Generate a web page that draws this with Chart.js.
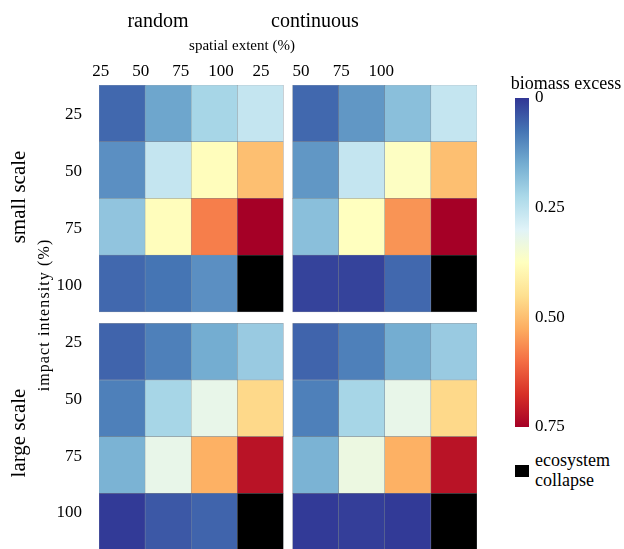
<!DOCTYPE html>
<html>
<head>
<meta charset="utf-8">
<script src="https://cdn.jsdelivr.net/npm/chart.js@4.4.1/dist/chart.umd.min.js"></script>
<style>
  body { margin: 0; background: #fff; }
  #wrap { position: relative; width: 624px; height: 549px; overflow: hidden; font-family: "Liberation Serif", "DejaVu Serif", serif; color: #000; }
  canvas { position: absolute; }
  .lbl { position: absolute; white-space: nowrap; transform: translate(-50%, -50%); line-height: 1; }
  .rot { transform: translate(-50%, -50%) rotate(-90deg); }
</style>
</head>
<body>
<div id="wrap">
  <canvas id="heat" width="490" height="549" style="left:0;top:0"></canvas>
  <canvas id="cbar" width="124" height="380" style="left:500px;top:60px"></canvas>

  <div class="lbl" style="left:158px;top:20px;font-size:20px">random</div>
  <div class="lbl" style="left:315px;top:20px;font-size:20px">continuous</div>
  <div class="lbl" style="left:242px;top:45px;font-size:15px">spatial extent (%)</div>
  <div class="lbl rot" style="left:18px;top:197px;font-size:21px">small scale</div>
  <div class="lbl rot" style="left:18px;top:433px;font-size:21px">large scale</div>
  <div class="lbl rot" style="left:44px;top:315px;font-size:16px;letter-spacing:1.1px">impact intensity (%)</div>
  <div class="lbl" style="left:566px;top:83px;font-size:18px">biomass excess</div>
  <div style="position:absolute;left:515px;top:465px;width:14px;height:12px;background:#000"></div>
  <div style="position:absolute;left:535px;top:450px;font-size:18px;line-height:20px">ecosystem<br>collapse</div>
</div>
<script>
// tick labels
const extentLabels = ['25', '50', '75', '100'];     // spatial extent (%)
const intensityLabels = ['25', '50', '75', '100'];  // impact intensity (%)

// biomass excess; rows = impact intensity, columns = spatial extent; null = ecosystem collapse
const smallRandom = [
  [0.06, 0.14, 0.22, 0.26],
  [0.11, 0.26, 0.38, 0.50],
  [0.19, 0.38, 0.58, 0.75],
  [0.06, 0.075, 0.11, null]
];
const smallContinuous = [
  [0.06, 0.12, 0.18, 0.26],
  [0.12, 0.26, 0.37, 0.50],
  [0.18, 0.375, 0.555, 0.75],
  [0.015, 0.015, 0.06, null]
];
const largeRandom = [
  [0.055, 0.09, 0.15, 0.20],
  [0.09, 0.22, 0.32, 0.46],
  [0.16, 0.32, 0.52, 0.72],
  [0.005, 0.04, 0.055, null]
];
const largeContinuous = [
  [0.055, 0.09, 0.15, 0.20],
  [0.09, 0.22, 0.32, 0.46],
  [0.16, 0.33, 0.52, 0.72],
  [0.005, 0.01, 0.005, null]
];

// colour bar
const barRange = [0, 0.75];
const barTicks = [0, 0.25, 0.5, 0.75];

// RdYlBu reversed, spread over 0 .. 0.75
const palette = ['#313695', '#4575b4', '#74add1', '#abd9e9', '#e0f3f8', '#ffffbf',
                 '#fee090', '#fdae61', '#f46d43', '#d73027', '#a50026'];

function hexToRgb(h) {
  return [parseInt(h.slice(1, 3), 16), parseInt(h.slice(3, 5), 16), parseInt(h.slice(5, 7), 16)];
}

function colour(v) {
  if (v === null) return '#000000';
  let t = Math.min(Math.max(v / barRange[1], 0), 1) * (palette.length - 1);
  const i = Math.min(Math.floor(t), palette.length - 2);
  const f = t - i;
  const a = hexToRgb(palette[i]), b = hexToRgb(palette[i + 1]);
  const c = a.map((x, k) => Math.round(x + (b[k] - x) * f));
  return `rgb(${c[0]},${c[1]},${c[2]})`;
}

const GAP = 0.2; // space between panels, in cell units
const panels = [
  {values: smallRandom, col: 0, row: 0},
  {values: smallContinuous, col: 4 + GAP, row: 0},
  {values: largeRandom, col: 0, row: 4 + GAP},
  {values: largeContinuous, col: 4 + GAP, row: 4 + GAP}
];

const colCentres = [];
panels.slice(0, 2).forEach(p => extentLabels.forEach((_, c) => colCentres.push(p.col + c + 0.5)));

const datasets = panels.map(p => {
  const data = [];
  const colours = [];
  p.values.forEach((row, r) => {
    row.forEach((v, c) => {
      data.push({x: p.col + c + 0.5, y: [p.row + r, p.row + r + 1]});
      colours.push(colour(v));
    });
  });
  return {
    data: data,
    backgroundColor: colours,
    borderColor: 'rgba(80,90,100,0.6)',
    borderWidth: 0.5,
    borderSkipped: false,
    grouped: false,
    barPercentage: 1,
    categoryPercentage: 1
  };
});

const tickFont = {family: 'Liberation Serif', size: 17};
const noGrid = {display: false, drawTicks: false};

// keep the label axes from pushing the plot area around
function noPad(s) {
  s.paddingLeft = 0; s.paddingRight = 0; s.paddingTop = 0; s.paddingBottom = 0;
}

new Chart(document.getElementById('heat'), {
  type: 'bar',
  data: {datasets: datasets},
  options: {
    responsive: false,
    animation: false,
    layout: {padding: {left: 0, top: 0, right: 13, bottom: 0}},
    plugins: {legend: {display: false}, tooltip: {enabled: false}},
    scales: {
      x: {
        type: 'linear', min: 0, max: 8 + GAP, display: false, offset: false,
        afterBuildTicks: s => { s.ticks = colCentres.map(v => ({value: v})); }
      },
      y: {type: 'linear', min: 0, max: 8.18, reverse: true, display: false},
      xl: {
        type: 'linear', position: 'top', axis: 'x', min: -0.0425, max: 9.39, offset: false,
        grid: noGrid, border: {display: false},
        afterBuildTicks: s => { s.ticks = [0, 1, 2, 3, 4, 5, 6, 7].map(v => ({value: v})); },
        afterFit: s => { s.height = 85; noPad(s); },
        ticks: {
          autoSkip: false, maxRotation: 0, padding: 3, color: '#000', font: tickFont,
          callback: v => extentLabels[v % 4]
        }
      },
      yl: {
        type: 'linear', position: 'left', axis: 'y', min: -0.528, max: 7.633, reverse: true,
        grid: noGrid, border: {display: false},
        afterBuildTicks: s => { s.ticks = [0, 1, 2, 3, 4, 5, 6, 7].map(v => ({value: v})); },
        afterFit: s => { s.width = 99; noPad(s); },
        ticks: {
          autoSkip: false, padding: 17, color: '#000', font: tickFont,
          callback: v => intensityLabels[v % 4]
        }
      }
    }
  }
});

new Chart(document.getElementById('cbar'), {
  type: 'bar',
  data: {
    labels: ['biomass excess'],
    datasets: [{
      data: [barRange],
      barPercentage: 1,
      categoryPercentage: 1,
      backgroundColor: ctx => {
        const area = ctx.chart.chartArea;
        if (!area) return palette[0];
        const g = ctx.chart.ctx.createLinearGradient(0, area.top, 0, area.bottom);
        palette.forEach((c, i) => g.addColorStop(i / (palette.length - 1), c));
        return g;
      }
    }]
  },
  options: {
    responsive: false,
    animation: false,
    layout: {padding: {left: 15, top: 38, right: 0, bottom: 13}},
    plugins: {legend: {display: false}, tooltip: {enabled: false}},
    scales: {
      x: {display: false},
      y: {
        position: 'right', min: barRange[0], max: barRange[1], reverse: true,
        grid: noGrid, border: {display: false},
        afterBuildTicks: s => { s.ticks = barTicks.map(v => ({value: v})); },
        afterFit: s => { s.width = 95; noPad(s); },
        ticks: {
          padding: 6, color: '#000', font: tickFont,
          callback: v => (v === 0 ? '0' : v.toFixed(2))
        }
      }
    }
  }
});
</script>
</body>
</html>
